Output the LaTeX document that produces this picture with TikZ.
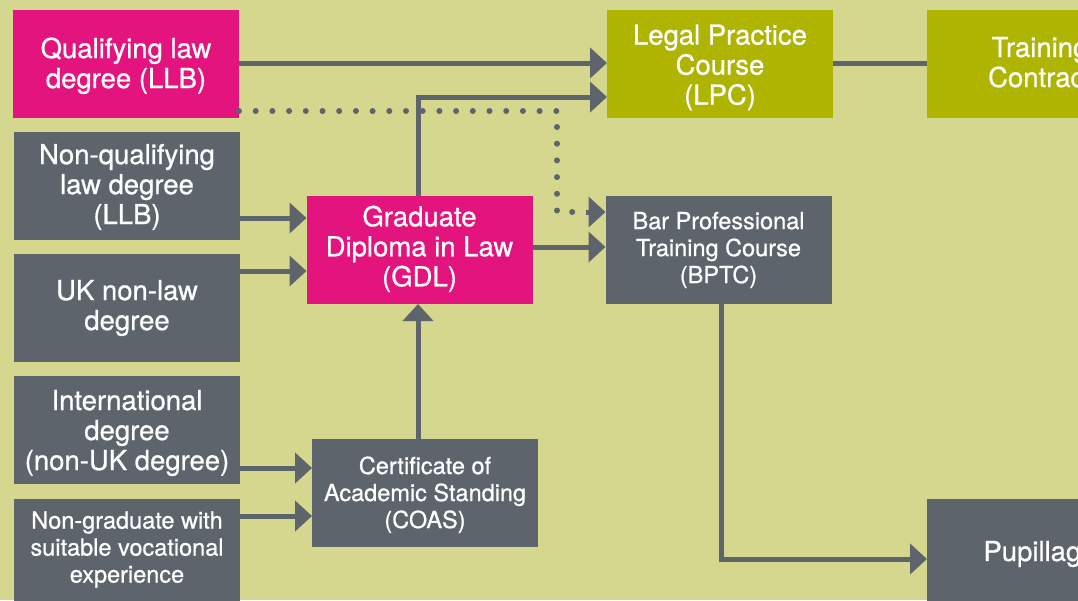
\documentclass[tikz,border=0pt]{standalone}
\usepackage{fontspec}
\setmainfont{TeX Gyre Heros}[RawFeature={embolden=0.8}]
\usetikzlibrary{arrows.meta}
\definecolor{bgc}{RGB}{214,215,143}
\definecolor{mag}{RGB}{228,20,127}
\definecolor{gry}{RGB}{93,100,108}
\definecolor{olv}{RGB}{174,180,0}
\newcommand\tlow[1]{\rule{0pt}{#1}}
\newcommand\thigh[1]{\rule[-#1]{0pt}{0pt}}
\tikzset{
  box/.style={minimum width=226pt,minimum height=108pt,inner sep=0pt,outer sep=0pt,
    text=white,align=center,font=\fontsize{27.5}{30}\selectfont},
  smallbox/.style={box,font=\fontsize{23.5}{27}\selectfont},
  magbox/.style={box,fill=mag},
  grybox/.style={box,fill=gry},
  olvbox/.style={box,fill=olv},
  conn/.style={draw=gry,line width=5pt},
  arr/.style={conn,-{Triangle[length=17pt,width=30pt]}},
  dots/.style={draw=gry,line width=6pt,line cap=round,dash pattern=on 0pt off 16.7pt}
}
\begin{document}
\begin{tikzpicture}[x=1pt,y=-1pt]
\useasboundingbox (0,0) rectangle (1078,600);
\clip (0,0) rectangle (1078,600);
\fill[bgc] (0,0) rectangle (1078,600);
\node[magbox] (qld) at (126,64) {\tlow{24pt}Qualifying law\\degree (LLB)};
\node[grybox] (nql) at (127,186) {\tlow{22pt}Non-qualifying\\law degree\\(LLB)};
\node[grybox] (uk) at (127,308) {UK non-law\\degree};
\node[grybox] (intl) at (127,430) {\tlow{26pt}International\\degree\\(non-UK degree)};
\node[grybox,smallbox] (ng) at (127,553) {Non-graduate with\\suitable vocational\\experience\thigh{12pt}};
\node[magbox] (gdl) at (419.5,250) {Graduate\\Diploma in Law\\(GDL)\thigh{8pt}};
\node[grybox,smallbox] (coas) at (425,493) {\tlow{21pt}Certificate of\\Academic Standing\\(COAS)};
\node[olvbox] (lpc) at (720,64) {\tlow{27pt}Legal Practice\\Course\\(LPC)};
\node[grybox,smallbox] (bptc) at (718.5,250) {Bar Professional\\Training Course\\(BPTC)};
\node[olvbox] (tc) at (1040,64) {Training\\Contract\thigh{4pt}};
\node[grybox] (pup) at (1040,553) {\tlow{22pt}Pupillage};
% connectors
\draw[arr] (qld.east |- 0,63) -- (lpc.west |- 0,63);
\draw[arr] (gdl.north -| 418,0) |- (lpc.west |- 0,97);
\draw[dots] (qld.east |- 0,111) -| (557,212) -- (573,212);
\draw[arr] (586,212) -- (bptc.west |- 0,212);
\draw[arr] (nql.east |- 0,218) -- (gdl.west |- 0,218);
\draw[arr] (uk.east |- 0,271) -- (gdl.west |- 0,271);
\draw[arr] (gdl.east |- 0,247) -- (bptc.west |- 0,247);
\draw[arr] (coas.north -| 418,0) -- (gdl.south -| 418,0);
\draw[arr] (intl.east |- 0,468) -- (coas.west |- 0,468);
\draw[arr] (ng.east |- 0,516) -- (coas.west |- 0,516);
\draw[conn] (lpc.east |- 0,63) -- (tc.west |- 0,63);
\draw[arr] (bptc.south -| 721,0) |- (pup.west |- 0,559);
\end{tikzpicture}
\end{document}
